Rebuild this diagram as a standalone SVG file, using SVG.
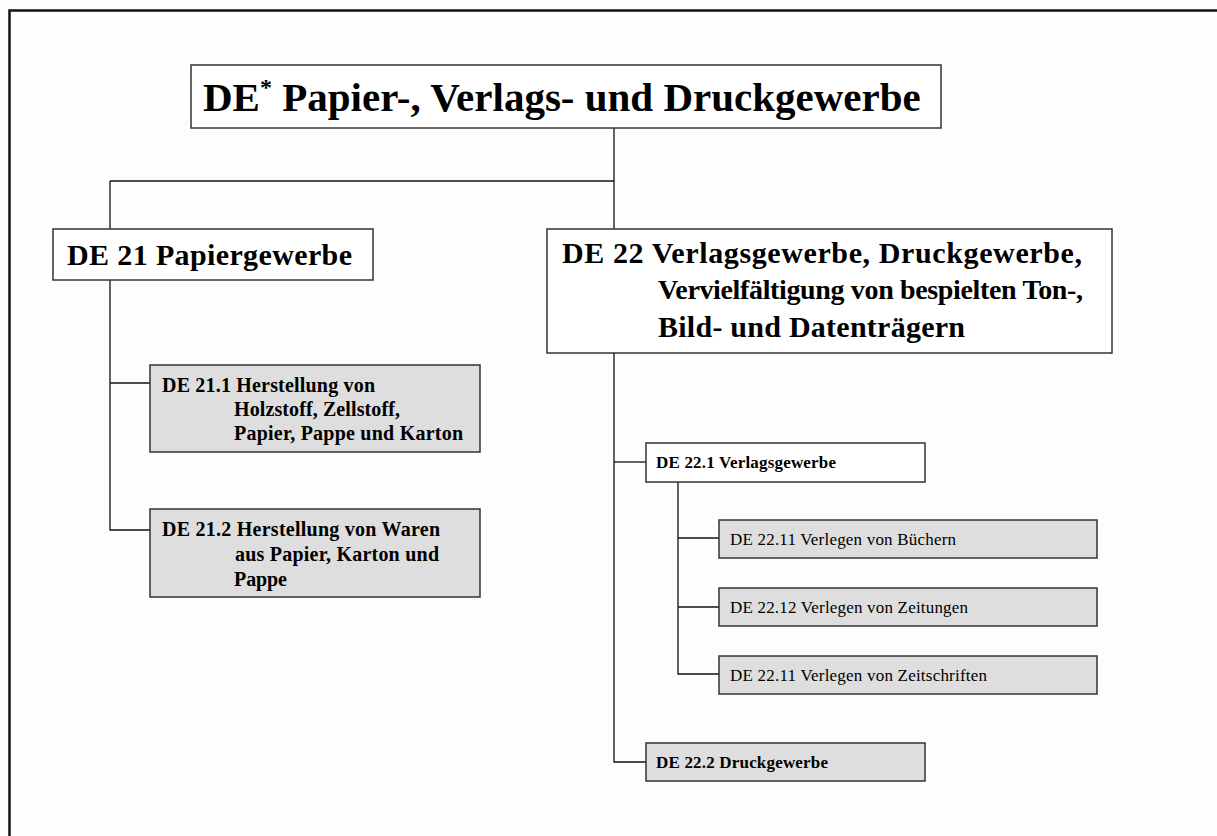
<svg xmlns="http://www.w3.org/2000/svg" width="1217" height="836" viewBox="0 0 1217 836">
<style>
  text { font-family: "Liberation Serif", "Times New Roman", serif; fill: #000; }
  .box { fill: #ffffff; stroke: #333; stroke-width: 1.5; }
  .grey { fill: #dedede; stroke: #333; stroke-width: 1.5; }
  .conn { fill: none; stroke: #111; stroke-width: 1.3; }
  .b { font-weight: bold; }
  .t1 { font-size: 41px; font-weight: bold; }
  .t2 { font-size: 30px; font-weight: bold; }
  .t2s { font-size: 28px; font-weight: bold; }
  .t3 { font-size: 20px; font-weight: bold; }
  .t4 { font-size: 17px; }
</style>
<rect x="0" y="0" width="1217" height="836" fill="#fdfdfd"/>
<path d="M9.5,836 V10.5 H1217" fill="none" stroke="#111" stroke-width="2.5"/>

<g id="connectors">
  <path class="conn" d="M614,128 V229"/>
  <path class="conn" d="M110,181 H614"/>
  <path class="conn" d="M110,181 V229"/>
  <path class="conn" d="M110,280 V530 H150"/>
  <path class="conn" d="M110,383 H150"/>
  <path class="conn" d="M614,353 V762 H646"/>
  <path class="conn" d="M614,462 H646"/>
  <path class="conn" d="M678,482 V674 H719"/>
  <path class="conn" d="M678,538 H719"/>
  <path class="conn" d="M678,607 H719"/>
</g>

<g id="node-de">
  <rect class="box" x="191" y="65" width="750" height="63"/>
  <text class="t1" x="203" y="111">DE<tspan font-size="24" dy="-16">*</tspan><tspan dy="16"> Papier-, Verlags- und Druckgewerbe</tspan></text>
</g>

<g id="node-de21">
  <rect class="box" x="53" y="229" width="320" height="51"/>
  <text class="t2" x="67" y="265" textLength="285" lengthAdjust="spacing">DE 21 Papiergewerbe</text>
</g>

<g id="node-de22">
  <rect class="box" x="547" y="229" width="565" height="124"/>
  <text class="t2" x="562" y="263" textLength="520" lengthAdjust="spacing">DE 22 Verlagsgewerbe, Druckgewerbe,</text>
  <text class="t2s" x="658" y="299" textLength="425" lengthAdjust="spacing">Vervielfältigung von bespielten Ton-,</text>
  <text class="t2" x="658" y="337" textLength="307" lengthAdjust="spacing">Bild- und Datenträgern</text>
</g>

<g id="node-de21-1">
  <rect class="grey" x="150" y="365" width="330" height="87"/>
  <text class="t3" x="162" y="392" textLength="213" lengthAdjust="spacing">DE 21.1 Herstellung von</text>
  <text class="t3" x="234" y="416" textLength="166" lengthAdjust="spacing">Holzstoff, Zellstoff,</text>
  <text class="t3" x="234" y="440" textLength="229" lengthAdjust="spacing">Papier, Pappe und Karton</text>
</g>

<g id="node-de21-2">
  <rect class="grey" x="150" y="509" width="330" height="88"/>
  <text class="t3" x="162" y="536" textLength="278" lengthAdjust="spacing">DE 21.2 Herstellung von Waren</text>
  <text class="t3" x="235" y="561" textLength="204" lengthAdjust="spacing">aus Papier, Karton und</text>
  <text class="t3" x="234" y="586" textLength="53" lengthAdjust="spacing">Pappe</text>
</g>

<g id="node-de22-1">
  <rect class="box" x="646" y="443" width="279" height="39"/>
  <text class="t4 b" x="656" y="468" textLength="180" lengthAdjust="spacing">DE 22.1 Verlagsgewerbe</text>
</g>

<g id="node-de22-11">
  <rect class="grey" x="719" y="520" width="378" height="38"/>
  <text class="t4" x="730" y="545" textLength="226" lengthAdjust="spacing">DE 22.11 Verlegen von Büchern</text>
</g>

<g id="node-de22-12">
  <rect class="grey" x="719" y="588" width="378" height="38"/>
  <text class="t4" x="730" y="613" textLength="238" lengthAdjust="spacing">DE 22.12 Verlegen von Zeitungen</text>
</g>

<g id="node-de22-13">
  <rect class="grey" x="719" y="656" width="378" height="38"/>
  <text class="t4" x="730" y="681" textLength="257" lengthAdjust="spacing">DE 22.11 Verlegen von Zeitschriften</text>
</g>

<g id="node-de22-2">
  <rect class="grey" x="646" y="743" width="279" height="38"/>
  <text class="t4 b" x="656" y="768" textLength="172" lengthAdjust="spacing">DE 22.2 Druckgewerbe</text>
</g>
</svg>
